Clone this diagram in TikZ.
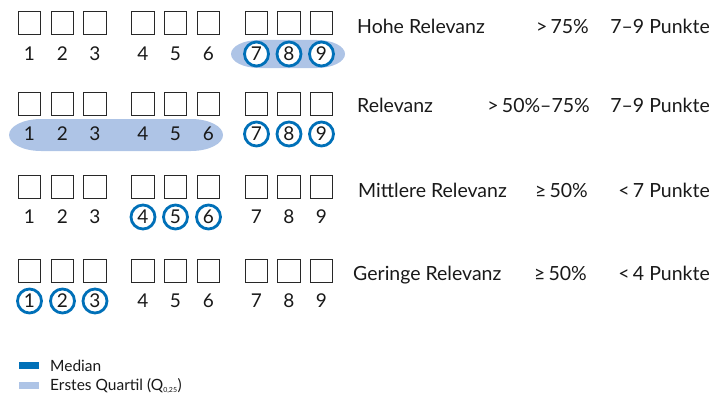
\documentclass[tikz,border=0pt]{standalone}
\usepackage{fontspec}
\setmainfont{Lato}
\definecolor{medblue}{RGB}{0,112,184}
\definecolor{qblue}{RGB}{174,196,230}
\definecolor{boxgray}{RGB}{40,40,40}
\tikzset{
  pbox/.style={draw=boxgray, line width=1.2pt, minimum size=22.5pt, inner sep=0pt},
  num/.style={font=\fontsize{19}{19}\selectfont, inner sep=0pt, text=black!90},
  ring/.style={num, circle, draw=medblue, fill=white, line width=2.8pt, minimum size=24pt},
  qband/.style={fill=qblue},
  lab/.style={font=\fontsize{19.5}{19.5}\selectfont, anchor=base west, inner sep=0pt, text=black!90},
  rlab/.style={font=\fontsize{19.5}{19.5}\selectfont, anchor=base east, inner sep=0pt, text=black!90},
  leg/.style={font=\fontsize{15.5}{15.5}\selectfont, anchor=west, inner sep=0pt, text=black!90},
}
\begin{document}
\begin{tikzpicture}[x=1pt,y=-1pt]
\useasboundingbox (0,0) rectangle (711,396);
% quartile bands
\fill[qband] (259,40) -- (317,40) arc[start angle=90, end angle=-90, x radius=28pt, y radius=14pt]
  -- (259,68) arc[start angle=270, end angle=90, x radius=28pt, y radius=14pt] -- cycle;
\fill[qband] (41,119) -- (191,119) arc[start angle=90, end angle=-90, x radius=32pt, y radius=16pt]
  -- (41,151) arc[start angle=270, end angle=90, x radius=32pt, y radius=16pt] -- cycle;
% rows
\foreach \r/\by/\ny/\lo/\hi in {1/23/54/7/9, 2/104/134/7/9, 3/187/217/4/6, 4/271/301/1/3}{
  \foreach \i/\x in {1/29.5,2/62.5,3/95,4/143,5/175.5,6/208.5,7/256.5,8/289,9/321.5}{
    \node[pbox] (b\r\i) at (\x,\by) {};
    \pgfmathtruncatemacro{\inring}{(\i>=\lo)&&(\i<=\hi)}
    \ifnum\inring=1
      \node[ring] (n\r\i) at (\x,\ny) {\i};
    \else
      \node[num] (n\r\i) at (\x,\ny) {\i};
    \fi
  }
}
% labels
\node[lab] (l1) at (357,34) {Hohe Relevanz};
\node[rlab] (p1) at (589,34) {>\,75\%};
\node[rlab] (k1) at (710,34) {7–9 Punkte};
\node[lab] (l2) at (357,112) {Relevanz};
\node[rlab] (p2) at (590,112) {>\,50\%–75\%};
\node[rlab] (k2) at (710,112) {7–9 Punkte};
\node[lab] (l3) at (358,197) {Mittlere Relevanz};
\node[rlab] (p3) at (588,197) {≥\,50\%};
\node[rlab] (k3) at (710,197) {<\,7 Punkte};
\node[lab] (l4) at (353,280) {Geringe Relevanz};
\node[rlab] (p4) at (587,280) {≥\,50\%};
\node[rlab] (k4) at (710,280) {<\,4 Punkte};
% legend
\node[fill=medblue, minimum width=20pt, minimum height=7.5pt, inner sep=0pt] (m) at (29,365.5) {};
\node[leg] (mt) at (50,366) {Median};
\node[fill=qblue, minimum width=20pt, minimum height=7.5pt, inner sep=0pt] (q) at (29,385.5) {};
\node[leg] (qt) at (50,386) {Erstes Quartil (Q\textsubscript{\fontsize{7}{7}\selectfont 0,25})};
\end{tikzpicture}
\end{document}
